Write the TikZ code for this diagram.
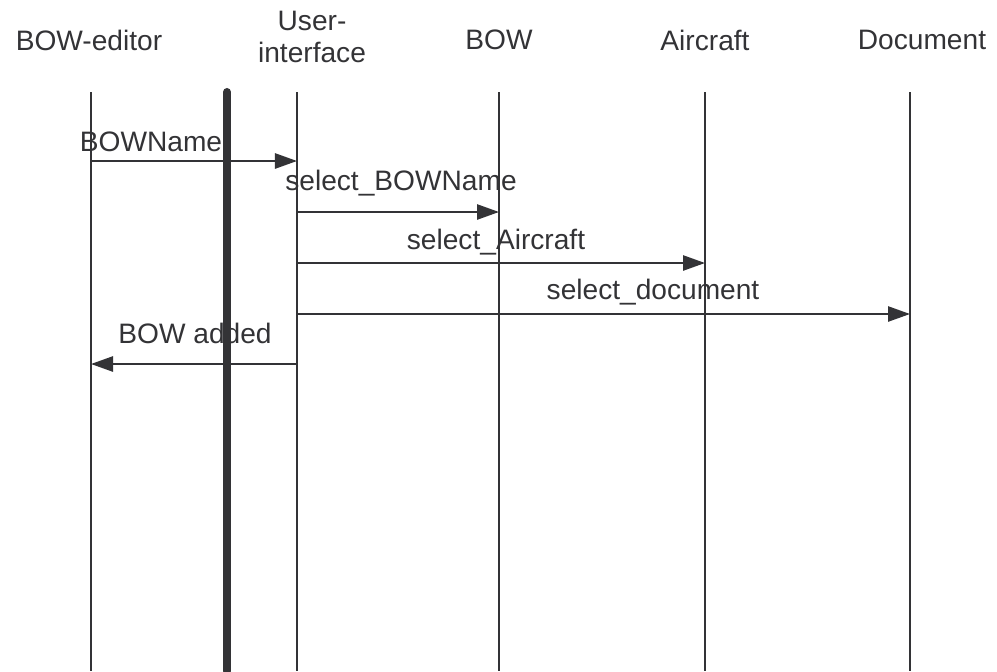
\documentclass[tikz,border=0pt]{standalone}
\usepackage{fontspec}
\setmainfont{Liberation Sans}
\usetikzlibrary{arrows.meta}
\definecolor{linegray}{RGB}{51,51,54}

\begin{document}
\begin{tikzpicture}[x=0.025cm,y=-0.025cm,every node/.style={font=\fontsize{20}{23}\selectfont,text=linegray}]
\useasboundingbox (0,0) rectangle (997,671);
\tikzset{life/.style={draw=linegray,line width=1.4pt},
  msg/.style={draw=linegray,line width=1.4pt,-{Triangle[length=0.55cm,width=0.38cm]}}}
% heads
\node (editor) at (89,40)  {BOW-editor};
\node[align=center] (ui) at (312,37) {User-\\interface};
\node (bow)    at (499,40) {BOW};
\node (air)    at (705,40) {Aircraft};
\node (doc)    at (922,40) {Document};
% lifelines
\coordinate (Et) at (91,92);  \coordinate (Eb) at (91,671);
\coordinate (Ut) at (297,92); \coordinate (Ub) at (297,671);
\coordinate (Bt) at (499,92); \coordinate (Bb) at (499,671);
\coordinate (At) at (705,92); \coordinate (Ab) at (705,671);
\coordinate (Dt) at (910,92); \coordinate (Db) at (910,671);
\coordinate (Kt) at (227,92); \coordinate (Kb) at (227,671);
\draw[life] (Et) -- (Eb);
\draw[life] (Ut) -- (Ub);
\draw[life] (Bt) -- (Bb);
\draw[life] (At) -- (Ab);
\draw[life] (Dt) -- (Db);
% messages
\coordinate (E1) at (91,161);  \coordinate (U1) at (297,161);
\coordinate (U2) at (297,212); \coordinate (B2) at (499,212);
\coordinate (U3) at (297,263); \coordinate (A3) at (705,263);
\coordinate (U4) at (297,314); \coordinate (D4) at (910,314);
\coordinate (U5) at (297,364); \coordinate (E5) at (91,364);
\draw[msg] (E1) -- (U1);
\draw[msg] (U2) -- (B2);
\draw[msg] (U3) -- (A3);
\draw[msg] (U4) -- (D4);
\draw[msg] (U5) -- (E5);
\draw[draw=linegray,line width=5.7pt,line cap=round] (Kt) -- (Kb);
\node (m1) at (151,142) {BOWName};
\node (m2) at (401,183) {select\_BOWName};
\node (m3) at (496,242) {select\_Aircraft};
\node (m4) at (653,292) {select\_document};
\node (m5) at (195,333) {BOW added};
\end{tikzpicture}
\end{document}
